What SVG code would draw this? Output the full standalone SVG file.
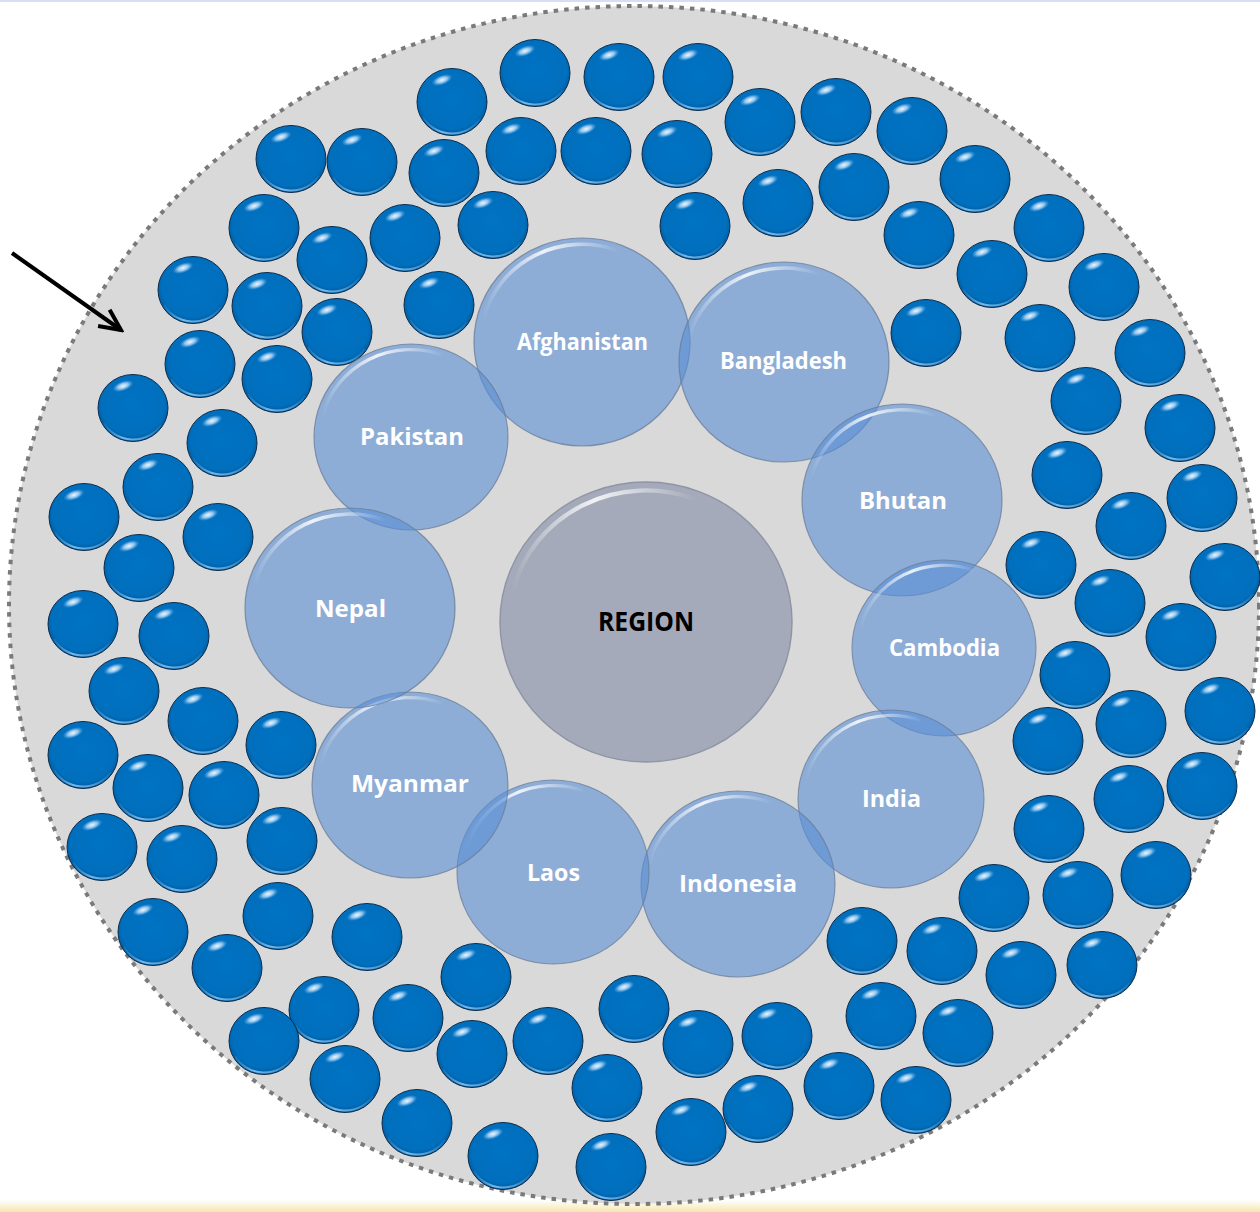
<svg xmlns="http://www.w3.org/2000/svg" xmlns:xlink="http://www.w3.org/1999/xlink" width="1260" height="1212" viewBox="0 0 1260 1212">
<style>
.lbl{font-family:"Open Sans","Liberation Sans",sans-serif;font-weight:700;font-size:23px;fill:#ffffff;text-anchor:middle}
.center-lbl{font-family:"Open Sans","Liberation Sans",sans-serif;font-weight:700;font-size:26px;fill:#000000;text-anchor:middle}
.outer{fill:#d9d9d9;stroke:#7a7a7a;stroke-width:4;stroke-dasharray:4.5 6}
.arrow{stroke:#000;stroke-width:4;fill:none}
</style>
<defs>
  <radialGradient id="ballFill" cx="0.5" cy="0.45" r="0.55">
    <stop offset="0" stop-color="#0073c4"/>
    <stop offset="0.82" stop-color="#006fbd"/>
    <stop offset="1" stop-color="#005799"/>
  </radialGradient>
  <radialGradient id="ballHl" cx="0.5" cy="0.5" r="0.5">
    <stop offset="0" stop-color="#ffffff" stop-opacity="0.95"/>
    <stop offset="0.5" stop-color="#cfe8ff" stop-opacity="0.7"/>
    <stop offset="1" stop-color="#5fb0f0" stop-opacity="0"/>
  </radialGradient>
  <linearGradient id="rimGrad" x1="-32" y1="0" x2="32" y2="0" gradientUnits="userSpaceOnUse">
    <stop offset="0" stop-color="#8fd0ff" stop-opacity="0"/>
    <stop offset="0.35" stop-color="#8fd0ff" stop-opacity="0.8"/>
    <stop offset="0.7" stop-color="#8fd0ff" stop-opacity="0.5"/>
    <stop offset="1" stop-color="#8fd0ff" stop-opacity="0"/>
  </linearGradient>
  <linearGradient id="bubHl" x1="-92" y1="0" x2="34" y2="0" gradientUnits="userSpaceOnUse">
    <stop offset="0" stop-color="#ffffff" stop-opacity="0"/>
    <stop offset="0.45" stop-color="#ffffff" stop-opacity="0.85"/>
    <stop offset="1" stop-color="#ffffff" stop-opacity="0"/>
  </linearGradient>
  <linearGradient id="bottomBand" x1="0" y1="0" x2="0" y2="1">
    <stop offset="0" stop-color="#ffffff"/>
    <stop offset="1" stop-color="#f4e6ad"/>
  </linearGradient>
  <g id="ball">
    <ellipse rx="35" ry="33.5" fill="url(#ballFill)" stroke="#0d2c4c" stroke-width="1"/>
    <path d="M -29 15 A 33 31 0 0 0 28 17" fill="none" stroke="url(#rimGrad)" stroke-width="2"/>
    <ellipse cx="-10" cy="-22" rx="11" ry="5" transform="rotate(-20 -10 -22)" fill="url(#ballHl)"/>
  </g>
  <g id="bubble">
    <circle r="100" fill="#5a8fd6" fill-opacity="0.6" stroke="#6a7c96" stroke-opacity="0.75" stroke-width="1.2"/>
    <path d="M -90.8 -24.3 A 94 94 0 0 1 32.1 -88.3" fill="none" stroke="url(#bubHl)" stroke-width="3.5" stroke-linecap="round"/>
  </g>
  <g id="bubbleGrey">
    <circle r="100" fill="#a4aaba" stroke="#8f95a4" stroke-width="1"/>
    <path d="M -90.8 -24.3 A 94 94 0 0 1 32.1 -88.3" fill="none" stroke="url(#bubHl)" stroke-width="3" stroke-linecap="round"/>
  </g>
  <marker id="openHead" viewBox="0 0 28 28" refX="25" refY="14" markerWidth="28" markerHeight="28" markerUnits="userSpaceOnUse" orient="auto">
    <path d="M4,4 L25,14 L4,24" fill="none" stroke="#000" stroke-width="4" stroke-linejoin="miter"/>
  </marker>
</defs>

<rect x="0" y="0" width="1260" height="1212" fill="#ffffff"/>
<rect x="0" y="0" width="1260" height="2" fill="#d8dcf6"/>
<rect x="0" y="1200" width="1260" height="12" fill="url(#bottomBand)"/>

<g id="outer-ring">
  <ellipse class="outer" cx="634" cy="605" rx="625" ry="599"/>
</g>

<g id="balls">
  <use href="#ball" x="291" y="159"/>
  <use href="#ball" x="362" y="162"/>
  <use href="#ball" x="452" y="102"/>
  <use href="#ball" x="535" y="73"/>
  <use href="#ball" x="619" y="77"/>
  <use href="#ball" x="698" y="77"/>
  <use href="#ball" x="760" y="122"/>
  <use href="#ball" x="836" y="112"/>
  <use href="#ball" x="912" y="131"/>
  <use href="#ball" x="975" y="179"/>
  <use href="#ball" x="1049" y="228"/>
  <use href="#ball" x="1104" y="287"/>
  <use href="#ball" x="1150" y="353"/>
  <use href="#ball" x="1180" y="428"/>
  <use href="#ball" x="1202" y="498"/>
  <use href="#ball" x="1225" y="577"/>
  <use href="#ball" x="1220" y="711"/>
  <use href="#ball" x="1202" y="786"/>
  <use href="#ball" x="1156" y="875"/>
  <use href="#ball" x="1102" y="965"/>
  <use href="#ball" x="444" y="173"/>
  <use href="#ball" x="521" y="151"/>
  <use href="#ball" x="596" y="151"/>
  <use href="#ball" x="677" y="154"/>
  <use href="#ball" x="778" y="203"/>
  <use href="#ball" x="854" y="187"/>
  <use href="#ball" x="919" y="235"/>
  <use href="#ball" x="992" y="274"/>
  <use href="#ball" x="1040" y="338"/>
  <use href="#ball" x="1086" y="401"/>
  <use href="#ball" x="1067" y="475"/>
  <use href="#ball" x="1131" y="526"/>
  <use href="#ball" x="1041" y="565"/>
  <use href="#ball" x="1110" y="603"/>
  <use href="#ball" x="1181" y="637"/>
  <use href="#ball" x="1075" y="675"/>
  <use href="#ball" x="1131" y="724"/>
  <use href="#ball" x="1048" y="741"/>
  <use href="#ball" x="1129" y="799"/>
  <use href="#ball" x="1049" y="829"/>
  <use href="#ball" x="994" y="898"/>
  <use href="#ball" x="1078" y="895"/>
  <use href="#ball" x="862" y="941"/>
  <use href="#ball" x="942" y="951"/>
  <use href="#ball" x="1021" y="975"/>
  <use href="#ball" x="881" y="1016"/>
  <use href="#ball" x="958" y="1033"/>
  <use href="#ball" x="839" y="1086"/>
  <use href="#ball" x="916" y="1100"/>
  <use href="#ball" x="777" y="1036"/>
  <use href="#ball" x="758" y="1109"/>
  <use href="#ball" x="698" y="1044"/>
  <use href="#ball" x="691" y="1132"/>
  <use href="#ball" x="634" y="1009"/>
  <use href="#ball" x="607" y="1088"/>
  <use href="#ball" x="611" y="1167"/>
  <use href="#ball" x="548" y="1041"/>
  <use href="#ball" x="503" y="1156"/>
  <use href="#ball" x="476" y="977"/>
  <use href="#ball" x="472" y="1054"/>
  <use href="#ball" x="408" y="1018"/>
  <use href="#ball" x="417" y="1123"/>
  <use href="#ball" x="345" y="1079"/>
  <use href="#ball" x="324" y="1010"/>
  <use href="#ball" x="264" y="1041"/>
  <use href="#ball" x="227" y="968"/>
  <use href="#ball" x="153" y="932"/>
  <use href="#ball" x="278" y="916"/>
  <use href="#ball" x="367" y="937"/>
  <use href="#ball" x="282" y="841"/>
  <use href="#ball" x="182" y="859"/>
  <use href="#ball" x="102" y="847"/>
  <use href="#ball" x="148" y="788"/>
  <use href="#ball" x="224" y="795"/>
  <use href="#ball" x="83" y="755"/>
  <use href="#ball" x="203" y="721"/>
  <use href="#ball" x="281" y="745"/>
  <use href="#ball" x="124" y="691"/>
  <use href="#ball" x="83" y="624"/>
  <use href="#ball" x="174" y="636"/>
  <use href="#ball" x="139" y="568"/>
  <use href="#ball" x="84" y="517"/>
  <use href="#ball" x="218" y="537"/>
  <use href="#ball" x="158" y="487"/>
  <use href="#ball" x="222" y="443"/>
  <use href="#ball" x="133" y="408"/>
  <use href="#ball" x="200" y="364"/>
  <use href="#ball" x="277" y="379"/>
  <use href="#ball" x="193" y="290"/>
  <use href="#ball" x="267" y="306"/>
  <use href="#ball" x="337" y="332"/>
  <use href="#ball" x="264" y="228"/>
  <use href="#ball" x="332" y="260"/>
  <use href="#ball" x="405" y="238"/>
  <use href="#ball" x="493" y="225"/>
  <use href="#ball" x="439" y="305"/>
  <use href="#ball" x="695" y="226"/>
  <use href="#ball" x="926" y="333"/>
</g>

<g id="afghanistan">
  <use href="#bubble" transform="translate(582 342) scale(1.08 1.04)"/>
  <text class="lbl" x="582.5" y="350" textLength="131" lengthAdjust="spacingAndGlyphs">Afghanistan</text>
</g>
<g id="bangladesh">
  <use href="#bubble" transform="translate(784 362) scale(1.05 1.0)"/>
  <text class="lbl" x="783.5" y="369" textLength="127" lengthAdjust="spacingAndGlyphs">Bangladesh</text>
</g>
<g id="pakistan">
  <use href="#bubble" transform="translate(411 437) scale(0.97 0.93)"/>
  <text class="lbl" x="412" y="445" textLength="104" lengthAdjust="spacingAndGlyphs">Pakistan</text>
</g>
<g id="bhutan">
  <use href="#bubble" transform="translate(902 500) scale(1.0 0.96)"/>
  <text class="lbl" x="903" y="509" textLength="88" lengthAdjust="spacingAndGlyphs">Bhutan</text>
</g>
<g id="cambodia">
  <use href="#bubble" transform="translate(944 648) scale(0.92 0.88)"/>
  <text class="lbl" x="944.5" y="656" textLength="111" lengthAdjust="spacingAndGlyphs">Cambodia</text>
</g>
<g id="india">
  <use href="#bubble" transform="translate(891 799) scale(0.93 0.89)"/>
  <text class="lbl" x="891.5" y="807" textLength="59" lengthAdjust="spacingAndGlyphs">India</text>
</g>
<g id="indonesia">
  <use href="#bubble" transform="translate(738 884) scale(0.97 0.93)"/>
  <text class="lbl" x="738" y="892" textLength="118" lengthAdjust="spacingAndGlyphs">Indonesia</text>
</g>
<g id="laos">
  <use href="#bubble" transform="translate(553 872) scale(0.96 0.92)"/>
  <text class="lbl" x="553.5" y="881" textLength="53" lengthAdjust="spacingAndGlyphs">Laos</text>
</g>
<g id="myanmar">
  <use href="#bubble" transform="translate(410 785) scale(0.98 0.93)"/>
  <text class="lbl" x="410" y="792" textLength="118" lengthAdjust="spacingAndGlyphs">Myanmar</text>
</g>
<g id="nepal">
  <use href="#bubble" transform="translate(350 608) scale(1.05 1.0)"/>
  <text class="lbl" x="350.5" y="617" textLength="71" lengthAdjust="spacingAndGlyphs">Nepal</text>
</g>

<g id="region">
  <use href="#bubbleGrey" transform="translate(646 622) scale(1.46 1.40)"/>
  <text class="center-lbl" x="646" y="631" textLength="96" lengthAdjust="spacingAndGlyphs">REGION</text>
</g>

<g id="connectors">
  <line class="arrow" x1="12" y1="253" x2="121" y2="330" marker-end="url(#openHead)"/>
</g>
</svg>
